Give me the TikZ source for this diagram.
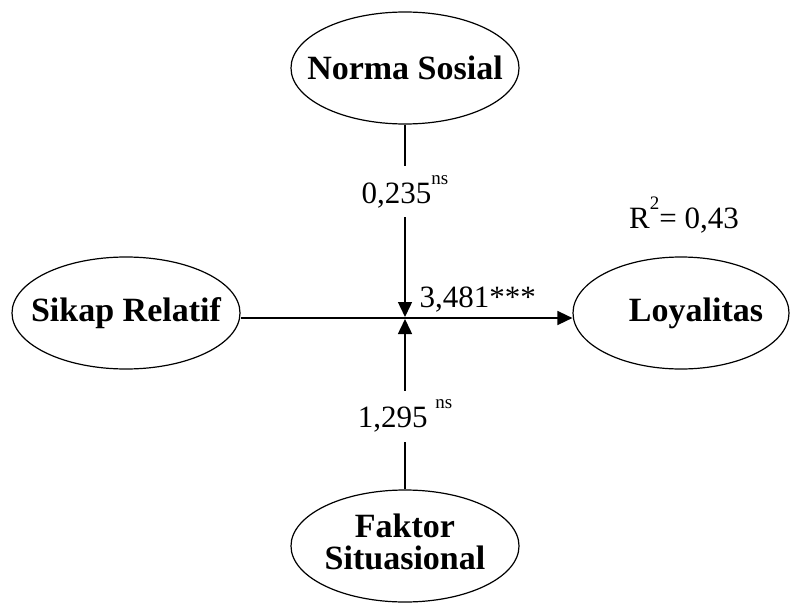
\documentclass[tikz,border=0pt]{standalone}
\usepackage{fontspec}
\setmainfont{Liberation Serif}
\usetikzlibrary{arrows.meta,positioning,shapes.geometric}
\newcommand{\sig}[1]{\raisebox{0.62em}{\fontsize{19}{19}\selectfont #1}}
\newcommand{\nowidth}[1]{\makebox[0pt]{#1}}

\begin{document}
\begin{tikzpicture}[
  x=1pt, y=-1pt,
  construct/.style={draw, ellipse, line width=1.2pt, inner sep=0pt, minimum width=228pt, minimum height=112pt, font=\fontsize{34}{29}\selectfont\bfseries},
  link/.style={-{Triangle[length=15pt,width=14pt]}, line width=1.5pt},
  coef/.style={fill=white, inner xsep=2pt, inner ysep=9pt, font=\fontsize{31}{32}\selectfont},
  note/.style={font=\fontsize{31}{32}\selectfont}
]
  \useasboundingbox (0,0) rectangle (791,604);

  \node[construct] (norma) at (405,68) {\nowidth{Norma Sosial}};
  \node[construct] (sikap) at (126,313) {\nowidth{Sikap Relatif}};
  \node[construct, minimum width=216pt] (loyal) at (681,313) {\nowidth{\hspace*{30pt}Loyalitas}};
  \node[construct] (faktor) at (405,546) {\nowidth{\begin{tabular}{@{}c@{}}Faktor\\Situasional\end{tabular}}};
  \coordinate (mid) at (405,318);

  \node[note] (rsq) at (684,215) {R\sig{2}= 0,43};

  \draw[link] (sikap.east |- mid) -- node[note, pos=0.715, above=2pt] {3,481***} (loyal.west |- mid);
  \draw[link] (norma) -- node[coef, pos=0.35] {0,235\sig{ns}} ([yshift=1pt]mid);
  \draw[link] (faktor) -- node[coef, pos=0.43] {1,295 \sig{ns}} ([yshift=-1pt]mid);
\end{tikzpicture}
\end{document}
